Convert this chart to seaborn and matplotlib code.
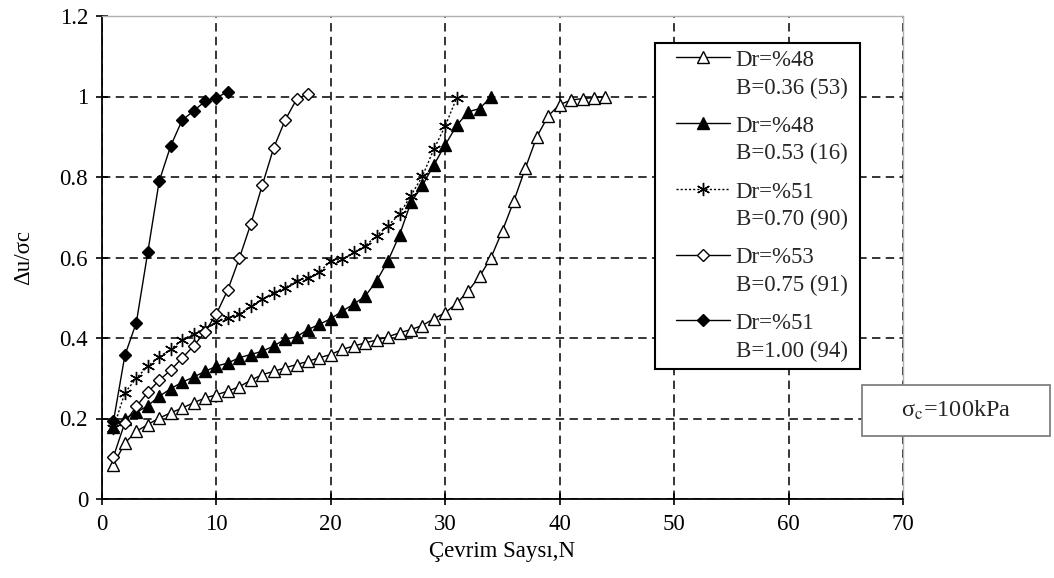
import numpy as np
import pandas as pd
import matplotlib
matplotlib.use("Agg")
import matplotlib.pyplot as plt
from matplotlib.patches import Rectangle
from matplotlib.lines import Line2D
from matplotlib.legend_handler import HandlerLine2D
import seaborn as sns

# ---------------- data ----------------
x_open_tri = list(range(1, 45))
y_open_tri = [0.085, 0.139, 0.168, 0.185, 0.201, 0.214, 0.226, 0.239, 0.251, 0.259,
              0.268, 0.279, 0.295, 0.309, 0.317, 0.326, 0.334, 0.342, 0.351, 0.359,
              0.372, 0.380, 0.388, 0.395, 0.403, 0.413, 0.421, 0.431, 0.448, 0.463,
              0.486, 0.517, 0.553, 0.600, 0.667, 0.741, 0.822, 0.900, 0.952, 0.980,
              0.991, 0.995, 0.997, 1.000]

x_fill_tri = list(range(1, 35))
y_fill_tri = [0.180, 0.200, 0.215, 0.232, 0.255, 0.274, 0.290, 0.303, 0.317, 0.330,
              0.338, 0.351, 0.359, 0.367, 0.380, 0.397, 0.403, 0.421, 0.434, 0.448,
              0.467, 0.484, 0.504, 0.542, 0.592, 0.656, 0.737, 0.779, 0.830, 0.880,
              0.928, 0.962, 0.970, 0.999]

x_star = list(range(1, 32))
y_star = [0.176, 0.264, 0.300, 0.330, 0.353, 0.372, 0.395, 0.410, 0.425, 0.440,
          0.450, 0.459, 0.480, 0.496, 0.513, 0.525, 0.542, 0.550, 0.564, 0.592,
          0.596, 0.613, 0.629, 0.654, 0.679, 0.708, 0.754, 0.802, 0.869, 0.927,
          0.997]

x_open_dia = list(range(1, 19))
y_open_dia = [0.105, 0.190, 0.230, 0.265, 0.295, 0.320, 0.350, 0.380, 0.415, 0.460,
              0.520, 0.598, 0.683, 0.779, 0.872, 0.941, 0.993, 1.007]

x_fill_dia = list(range(1, 12))
y_fill_dia = [0.193, 0.357, 0.438, 0.613, 0.790, 0.877, 0.941, 0.964, 0.988, 0.997, 1.012]

labels = ["Dr=%48\nB=0.36 (53)", "Dr=%48\nB=0.53 (16)", "Dr=%51\nB=0.70 (90)",
          "Dr=%53\nB=0.75 (91)", "Dr=%51\nB=1.00 (94)"]

x_ticks = [0, 10, 20, 30, 40, 50, 60, 70]
y_ticks = [0, 0.2, 0.4, 0.6, 0.8, 1.0, 1.2]
y_ticklabels = ["0", "0.2", "0.4", "0.6", "0.8", "1", "1.2"]
x_label = "Çevrim Saysı,N"
y_label = "Δu/σc"
note_text = r"σ$_\mathrm{c}$=100kPa"

# ---------------- style ----------------
sns.set_theme(style="white")
plt.rcParams["font.family"] = ["Liberation Serif", "DejaVu Serif"]
plt.rcParams["mathtext.fontset"] = "stix"

fig = plt.figure(figsize=(10.54, 5.78), dpi=100)
ax = fig.add_axes([102 / 1054, 1 - 499 / 578, (903 - 102) / 1054, (499 - 16) / 578])

series = [
    (x_open_tri, y_open_tri, dict(marker="^", markerfacecolor="white", linestyle="-", markersize=8)),
    (x_fill_tri, y_fill_tri, dict(marker="^", markerfacecolor="black", linestyle="-", markersize=8)),
    (x_star, y_star, dict(marker=(6, 2, 0), markerfacecolor="black", linestyle=(0, (1.5, 1.5)), markersize=9.5)),
    (x_open_dia, y_open_dia, dict(marker="D", markerfacecolor="white", linestyle="-", markersize=6.5)),
    (x_fill_dia, y_fill_dia, dict(marker="D", markerfacecolor="black", linestyle="-", markersize=6.5)),
]

for (xs, ys, st), lab in zip(series, labels):
    df = pd.DataFrame({"x": xs, "y": ys})
    sns.lineplot(data=df, x="x", y="y", ax=ax, color="black", linewidth=1.0,
                 markeredgecolor="black", markeredgewidth=1.0, sort=False,
                 errorbar=None, label=lab, **st)

ax.set_xlim(0, 70)
ax.set_ylim(0, 1.2)
ax.set_xticks(x_ticks)
ax.set_xticklabels([str(v) for v in x_ticks])
ax.set_yticks(y_ticks)
ax.set_yticklabels(y_ticklabels)
ax.tick_params(axis="both", direction="inout", length=8, width=1.2, colors="black",
               labelsize=16.5, left=True, bottom=True)
ax.tick_params(axis="x", pad=7)
ax.tick_params(axis="y", pad=6)

ax.grid(True, color="black", linestyle=(0, (5.5, 3.5)), linewidth=1.1)
ax.set_axisbelow(True)

for side in ["left", "bottom"]:
    ax.spines[side].set_color("black")
    ax.spines[side].set_linewidth(1.3)
for side in ["top", "right"]:
    ax.spines[side].set_color("#b0b0b0")
    ax.spines[side].set_linewidth(1.0)

ax.set_xlabel(x_label, fontsize=16.5, labelpad=4, color="black")
ax.set_ylabel(y_label, fontsize=16.5, labelpad=18, color="black")


class TopHandler(HandlerLine2D):
    """Line handle drawn level with the first text line of a two-line label."""
    def create_artists(self, legend, orig_handle, xdescent, ydescent, width,
                       height, fontsize, trans):
        arts = super().create_artists(legend, orig_handle, xdescent, ydescent,
                                      width, height, fontsize, trans)
        for a in arts:
            a.set_ydata(np.asarray(a.get_ydata()) + 0.74 * fontsize)
        return arts


leg = ax.legend(loc="upper left", bbox_to_anchor=(0.690, 0.944), borderaxespad=0,
                fontsize=16.5, frameon=True, fancybox=False, shadow=False,
                framealpha=1, edgecolor="black", handlelength=2.97,
                handletextpad=0.26, borderpad=0.3, labelspacing=0.75,
                handler_map={Line2D: TopHandler(xpad=0.61)})
leg.get_frame().set_linewidth(1.5)
for t in leg.get_texts():
    t.set_linespacing(1.4)
    t.set_text(t.get_text() + " ")

# note box (figure coords)
fig.patches.append(Rectangle((862 / 1054, 1 - 436 / 578), (1050 - 862) / 1054, 51 / 578,
                             transform=fig.transFigure, facecolor="white",
                             edgecolor="#808080", linewidth=1.3, zorder=5))
fig.text((862 + 1050) / 2 / 1054, 1 - 410 / 578, note_text, fontsize=17.5,
         ha="center", va="center", zorder=6)

fig.savefig("out.png", dpi=100)
